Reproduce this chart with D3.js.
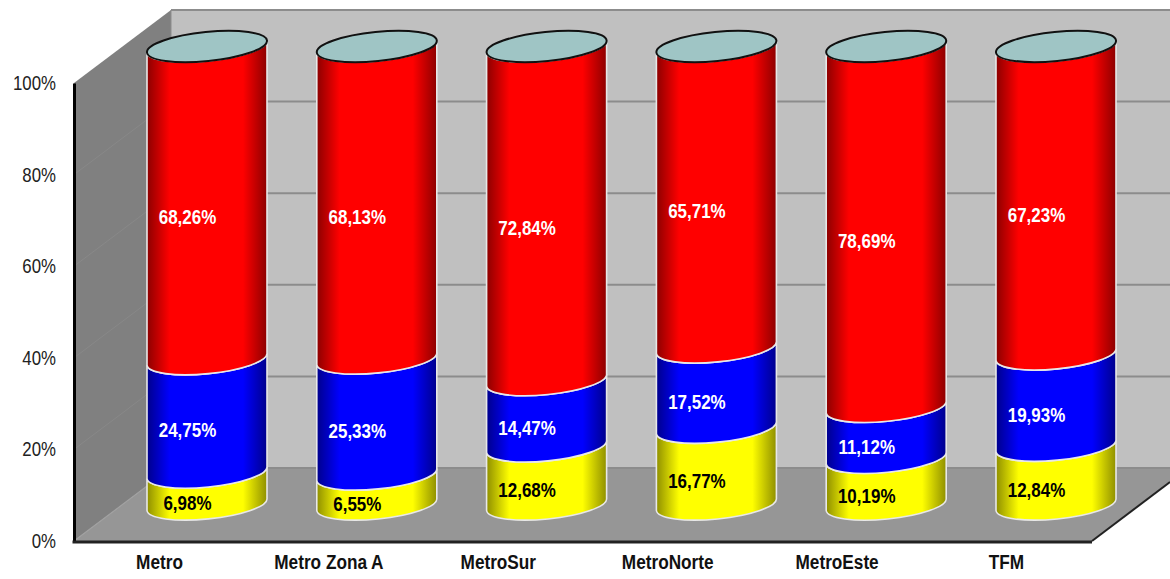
<!DOCTYPE html>
<html><head><meta charset="utf-8">
<script src="https://cdn.jsdelivr.net/npm/d3@7"></script>
<style>html,body{margin:0;padding:0;background:#fff;overflow:hidden}svg{display:block}</style>
</head><body><svg id="c" width="1170" height="579"></svg>
<script>
const categories=["Metro","Metro Zona A","MetroSur","MetroNorte","MetroEste","TFM"];
const yellowValues=[6.98,6.55,12.68,16.77,10.19,12.84];
const blueValues=[24.75,25.33,14.47,17.52,11.12,19.93];
const redValues=[68.26,68.13,72.84,65.71,78.69,67.23];
const tickValues=[0,20,40,60,80,100];
const seriesNames=["yellow","blue","red"];
const seriesColors={yellow:"#ffff00",blue:"#0000ff",red:"#ff0000"};
const edgeColors={yellow:"#8f8f00",blue:"#00008c",red:"#8c0000"};
const labelColors={yellow:"#000",blue:"#fff",red:"#fff"};
const fontFam="'Liberation Sans',Arial,sans-serif";

const svg=d3.select("#c"),W=1170;
const axisX=74,floorRight=1092,depthX=97,depthY=-73;
const yFront=d3.scaleLinear().domain([0,100]).range([541,83]);
const yBar=d3.scaleLinear().domain([0,100]).range([504.5,46.5]);
const xBar=d3.scalePoint().domain(categories).range([207,1056]);
const xLabel=d3.scalePoint().domain(categories).range([159,1006]);
const halfW=60,tilt=6,ry=14.5,rx=Math.hypot(halfW,tilt),rot=-Math.atan2(tilt,halfW)*180/Math.PI;
const condense=(sel,k)=>sel.each(function(){
  this.setAttribute("textLength",this.getComputedTextLength()*k);
  this.setAttribute("lengthAdjust","spacingAndGlyphs");
});

const defs=svg.append("defs");
seriesNames.forEach(s=>{
  const g=defs.append("linearGradient").attr("id","g-"+s);
  [[0,edgeColors[s]],[.19,seriesColors[s]],[.8,seriesColors[s]],[1,edgeColors[s]]]
   .forEach(([o,c])=>g.append("stop").attr("offset",o).attr("stop-color",c));
});

const y0=yFront(0),y100=yFront(100);
const poly=(pts,fill)=>svg.append("polygon").attr("points",pts.map(p=>p.join(",")).join(" ")).attr("fill",fill);
poly([[axisX+depthX,y100+depthY],[W,y100+depthY],[W,y0+depthY],[axisX+depthX,y0+depthY]],"#c0c0c0");
poly([[axisX,y100],[axisX+depthX,y100+depthY],[axisX+depthX,y0+depthY],[axisX,y0]],"#808080");
poly([[axisX,y0],[axisX+depthX,y0+depthY],[W,y0+depthY],[W,y0+depthY+14],[floorRight,y0]],"#969696");
const grid=svg.append("g").attr("fill","none");
tickValues.forEach(t=>{
  const y=yFront(t);
  grid.append("line").attr("x1",axisX+depthX).attr("x2",W).attr("y1",y+depthY).attr("y2",y+depthY)
    .attr("stroke","#8c8c8c").attr("stroke-width",2);
  if(t>0&&t<100) grid.append("line").attr("x1",axisX).attr("y1",y).attr("x2",axisX+depthX).attr("y2",y+depthY)
    .attr("stroke","#888").attr("stroke-width",1);
});
grid.append("line").attr("x1",axisX+depthX).attr("x2",axisX+depthX).attr("y1",y100+depthY).attr("y2",y0+depthY).attr("stroke","#8c8c8c").attr("stroke-width",1);
grid.append("line").attr("x1",axisX).attr("y1",y0).attr("x2",axisX+depthX).attr("y2",y0+depthY).attr("stroke","#a0a0a0").attr("stroke-width",1.2);
grid.append("line").attr("x1",floorRight).attr("y1",y0).attr("x2",W).attr("y2",y0+depthY+14).attr("stroke","#222").attr("stroke-width",2);

const rows=categories.map((c,i)=>({c,yellow:yellowValues[i],blue:blueValues[i],red:redValues[i]}));
const stack=d3.stack().keys(seriesNames)(rows);
const segPath=(cx,a,b)=>{
  const lo=yBar(a),hi=yBar(b);
  return `M${cx-halfW},${lo+tilt}L${cx-halfW},${hi+tilt}A${rx},${ry} ${rot} 0 0 ${cx+halfW},${hi-tilt}L${cx+halfW},${lo-tilt}A${rx},${ry} ${rot} 0 1 ${cx-halfW},${lo+tilt}Z`;
};
stack.forEach(layer=>{
  svg.append("g").selectAll("path").data(layer).join("path")
    .attr("d",d=>segPath(xBar(d.data.c),d[0],d[1]))
    .attr("fill",`url(#g-${layer.key})`)
    .attr("stroke","#e8e8e8").attr("stroke-width",1.6);
});
svg.append("g").selectAll("ellipse").data(categories).join("ellipse")
  .attr("cx",c=>xBar(c)).attr("cy",yBar(100)).attr("rx",rx).attr("ry",ry)
  .attr("transform",c=>`rotate(${rot} ${xBar(c)} ${yBar(100)})`)
  .attr("fill","#9fc5c5").attr("stroke","#111").attr("stroke-width",2);
const fmt=v=>v.toFixed(2).replace(".",",")+"%";
stack.forEach(layer=>{
  svg.append("g").selectAll("text").data(layer).join("text")
    .attr("x",d=>xBar(d.data.c)-19.5).attr("y",d=>yBar((d[0]+d[1])/2)+21.5)
    .attr("text-anchor","middle").attr("font-family",fontFam).attr("font-weight","bold").attr("font-size",19.5)
    .attr("fill",labelColors[layer.key]).text(d=>fmt(d.data[layer.key])).call(condense,.87);
});
const yAxis=d3.axisLeft(yFront).tickValues(tickValues).tickSize(0).tickPadding(18).tickFormat(d=>d+"%");
const gy=svg.append("g").attr("transform",`translate(${axisX},0)`).call(yAxis);
gy.select(".domain").attr("stroke","#000").attr("stroke-width",3);
gy.selectAll("text").attr("font-family",fontFam).attr("font-size",20).attr("fill","#222").call(condense,.84);
const xAxis=d3.axisBottom(xLabel).tickSize(0).tickPadding(14);
const gx=svg.append("g").attr("transform",`translate(0,${y0})`).call(xAxis);
gx.select(".domain").remove();
gx.selectAll("text").attr("font-family",fontFam).attr("font-weight","bold").attr("font-size",20).attr("fill","#111").call(condense,.86);
svg.append("line").attr("x1",axisX-1.5).attr("x2",floorRight).attr("y1",y0+1).attr("y2",y0+1).attr("stroke","#222").attr("stroke-width",3);
</script></body></html>
